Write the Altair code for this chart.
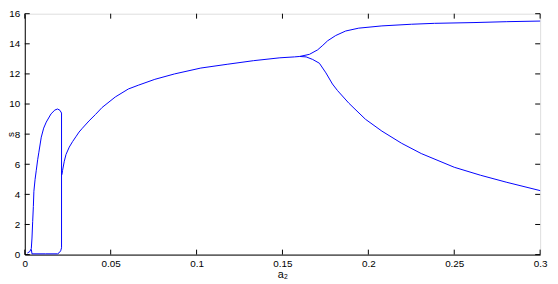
import altair as alt
import pandas as pd

# Closed loop near the origin (traversed in order)
loop_a = [0.0015, 0.0029, 0.0038, 0.0042, 0.0046, 0.0050, 0.0053, 0.0060, 0.0067, 0.0075,
          0.0082, 0.0096, 0.0110, 0.0125, 0.0153, 0.0175, 0.0191, 0.0205, 0.0214, 0.0214,
          0.0209, 0.0200, 0.0191, 0.0120, 0.0042, 0.0038]
loop_s = [0.10, 0.20, 0.40, 1.10, 2.20, 3.20, 4.20, 5.00, 5.60, 6.30,
          6.80, 7.80, 8.40, 8.80, 9.35, 9.60, 9.67, 9.58, 9.40, 0.45,
          0.25, 0.12, 0.05, 0.05, 0.05, 0.35]

# Main branch
main_a = [0.0216, 0.0220, 0.0230, 0.0240, 0.0259, 0.0278, 0.0297, 0.0316, 0.0335, 0.0374,
          0.0412, 0.0450, 0.0527, 0.0603, 0.0661, 0.0757, 0.0872, 0.1025, 0.1178, 0.1332,
          0.1485, 0.1570, 0.1600]
main_s = [5.30, 5.59, 6.20, 6.65, 7.14, 7.50, 7.82, 8.14, 8.39, 8.88,
          9.31, 9.77, 10.47, 11.00, 11.25, 11.64, 12.00, 12.39, 12.64, 12.88,
          13.07, 13.13, 13.16]

# Upper branch after bifurcation
upper_a = [0.1600, 0.1657, 0.1705, 0.1735, 0.1763, 0.1810, 0.1868, 0.1944, 0.2079, 0.2251,
           0.2385, 0.2615, 0.2806, 0.3000]
upper_s = [13.16, 13.30, 13.60, 13.90, 14.20, 14.55, 14.85, 15.04, 15.19, 15.30,
           15.36, 15.41, 15.47, 15.51]

# Lower branch after bifurcation
lower_a = [0.1600, 0.1638, 0.1676, 0.1715, 0.1753, 0.1791, 0.1820, 0.1887, 0.1983, 0.2079,
           0.2194, 0.2308, 0.2500, 0.2653, 0.2806, 0.3000]
lower_s = [13.16, 13.13, 12.96, 12.71, 12.07, 11.33, 10.90, 10.05, 8.99, 8.20,
           7.39, 6.71, 5.80, 5.27, 4.80, 4.25]

x_ticks = [0, 0.05, 0.1, 0.15, 0.2, 0.25, 0.3]
y_ticks = [0, 2, 4, 6, 8, 10, 12, 14, 16]

W, H = 522, 244
BLUE = "#0000FF"
FONT = "Liberation Sans"

rows = []
for i, (a, s) in enumerate(zip(loop_a, loop_s)):
    rows.append({"a": a, "s": s, "branch": "loop", "o": i})
for i, (a, s) in enumerate(zip(main_a, main_s)):
    rows.append({"a": a, "s": s, "branch": "main", "o": i})
for i, (a, s) in enumerate(zip(upper_a, upper_s)):
    rows.append({"a": a, "s": s, "branch": "upper", "o": i})
for i, (a, s) in enumerate(zip(lower_a, lower_s)):
    rows.append({"a": a, "s": s, "branch": "lower", "o": i})
df = pd.DataFrame(rows)

xs = alt.Scale(domain=[0, 0.3], nice=False, zero=False)
ys = alt.Scale(domain=[0, 16], nice=False)

xaxis = alt.Axis(values=x_ticks, format="~g", title="a₂", tickSize=0,
                 labelPadding=4, titlePadding=0, grid=False,
                 labelOverlap=False, labelFlush=False,
                 domainColor="black", labelColor="black", titleColor="black",
                 labelFont=FONT, titleFont=FONT, labelFontSize=10,
                 titleFontSize=11, titleFontWeight="normal")
yaxis = alt.Axis(values=y_ticks, title="s", tickSize=0, labelPadding=5,
                 labelOverlap=False, labelFlush=False,
                 grid=False, domainColor="black", labelColor="black",
                 titleColor="black", labelFont=FONT, titleFont=FONT,
                 labelFontSize=10, titleFontSize=10, titleFontWeight="normal",
                 titleX=-14, titleY=H / 2, titleBaseline="middle")

lines = alt.Chart(df).mark_line(color=BLUE, strokeWidth=1).encode(
    x=alt.X("a:Q", scale=xs, axis=xaxis, title="a₂"),
    y=alt.Y("s:Q", scale=ys, axis=yaxis, title="s"),
    detail="branch:N",
    order="o:Q",
)

xt = pd.DataFrame({"t": x_ticks})
yt = pd.DataFrame({"t": y_ticks})
tick_style = dict(color="black", strokeWidth=1)
xb = alt.Chart(xt).mark_rule(**tick_style).encode(
    x=alt.X("t:Q", scale=xs, axis=xaxis, title="a₂"), y=alt.value(H), y2=alt.value(H - 5))
xtp = alt.Chart(xt).mark_rule(**tick_style).encode(
    x=alt.X("t:Q", scale=xs, axis=xaxis, title="a₂"), y=alt.value(0), y2=alt.value(5))
yl = alt.Chart(yt).mark_rule(**tick_style).encode(
    y=alt.Y("t:Q", scale=ys, axis=yaxis, title="s"), x=alt.value(0), x2=alt.value(5))
yr = alt.Chart(yt).mark_rule(**tick_style).encode(
    y=alt.Y("t:Q", scale=ys, axis=yaxis, title="s"), x=alt.value(W), x2=alt.value(W - 5))

chart = alt.layer(lines, xb, xtp, yl, yr).properties(
    width=W, height=H,
    autosize=alt.AutoSizeParams(type="none"),
    padding={"left": 17, "top": 4, "right": 10, "bottom": 26},
).configure_view(stroke="black", strokeWidth=1).configure(background="white")

chart.save("out.html", embed_options={"renderer": "svg", "actions": False})
